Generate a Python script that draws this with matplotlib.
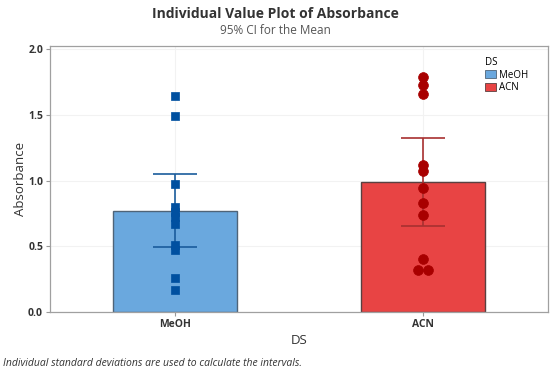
import matplotlib
matplotlib.use("Agg")
import matplotlib.pyplot as plt
from matplotlib.patches import Patch
import numpy as np

plt.rcParams['font.family'] = ['Open Sans', 'DejaVu Sans']

categories = ["MeOH", "ACN"]
meoh_values = [1.64, 1.49, 0.97, 0.80, 0.76, 0.72, 0.67, 0.51, 0.47, 0.26, 0.17]
acn_values = [1.79, 1.73, 1.66, 1.12, 1.07, 0.945, 0.83, 0.74, 0.40, 0.32, 0.32]
means = [0.77, 0.99]
ci_low = [0.494, 0.654]
ci_high = [1.05, 1.32]
yticks = [0.0, 0.5, 1.0, 1.5, 2.0]

bar_colors = ["#6aa8de", "#e84444"]
bar_edges = ["#4f6478", "#5a4040"]
pt_colors = ["#0050a0", "#a80000"]
ci_colors = ["#1a5c9c", "#a83030"]
markers = ["s", "o"]

fig = plt.figure(figsize=(5.5, 3.72), dpi=100)
ax = fig.add_axes([50/550, 1-312/372, 498/550, (312-46.4)/372])

x = np.arange(len(categories))
ax.bar(x, means, width=0.5, color=bar_colors, edgecolor=bar_edges, linewidth=1.0, zorder=2)

for i, vals in enumerate([meoh_values, acn_values]):
    vals = np.array(vals)
    # dodge tied values side by side
    xs = np.full(len(vals), float(x[i]))
    uniq, counts = np.unique(vals, return_counts=True)
    for u, c in zip(uniq, counts):
        if c > 1:
            idx = np.where(vals == u)[0]
            offs = (np.arange(c) - (c-1)/2) * 0.042
            xs[idx] = x[i] + offs
    ax.vlines(x[i], ci_low[i], ci_high[i], color=ci_colors[i], linewidth=1.2, zorder=3)
    ax.hlines([ci_low[i], ci_high[i]], x[i]-0.09, x[i]+0.09, color=ci_colors[i], linewidth=1.2, zorder=3)
    ax.scatter(xs, vals, marker=markers[i], s=34 if i == 0 else 50, color=pt_colors[i],
               edgecolors=pt_colors[i], linewidths=0.5, zorder=4)

ax.set_xlim(-0.504, 1.504)
ax.set_ylim(0, 2.02)
ax.set_yticks(yticks)
ax.set_yticklabels([f"{t:.1f}" for t in yticks])
ax.set_xticks(x)
ax.set_xticklabels(categories)
for lab in ax.get_xticklabels() + ax.get_yticklabels():
    lab.set_fontweight('bold')
    lab.set_fontsize(7.5)
    lab.set_color('#333333')
ax.tick_params(axis='both', length=3, width=0.8, color='#999999', pad=2)
ax.grid(True, color='#f2f2f2', linewidth=0.8, zorder=0)
ax.set_axisbelow(True)
for s in ax.spines.values():
    s.set_color('#a0a0a0')
    s.set_linewidth(0.9)

ax.set_ylabel("Absorbance", fontsize=9.5, color='#333333', labelpad=1)
ax.set_xlabel("DS", fontsize=9.5, color='#333333', labelpad=3)

handles = [Patch(facecolor=bar_colors[i], edgecolor=bar_edges[i], linewidth=0.6, label=categories[i]) for i in range(2)]
leg = ax.legend(handles=handles, title="DS", loc='upper right', bbox_to_anchor=(0.975, 0.985),
                frameon=False, fontsize=7, title_fontsize=7, handlelength=1.1, handleheight=0.9,
                handletextpad=0.4, labelspacing=0.15, borderpad=0.2)
leg._legend_box.align = "left"

fig.text(0.5, 1-14/372, "Individual Value Plot of Absorbance", ha='center', va='center',
         fontsize=10, fontweight='bold', color='#333333')
fig.text(0.5, 1-30/372, "95% CI for the Mean", ha='center', va='center', fontsize=8.5, color='#555555')
fig.text(3/550, 1-363/372, "Individual standard deviations are used to calculate the intervals.",
         ha='left', va='center', fontsize=7.5, style='italic', color='#333333')

fig.savefig("out.png", dpi=100)
